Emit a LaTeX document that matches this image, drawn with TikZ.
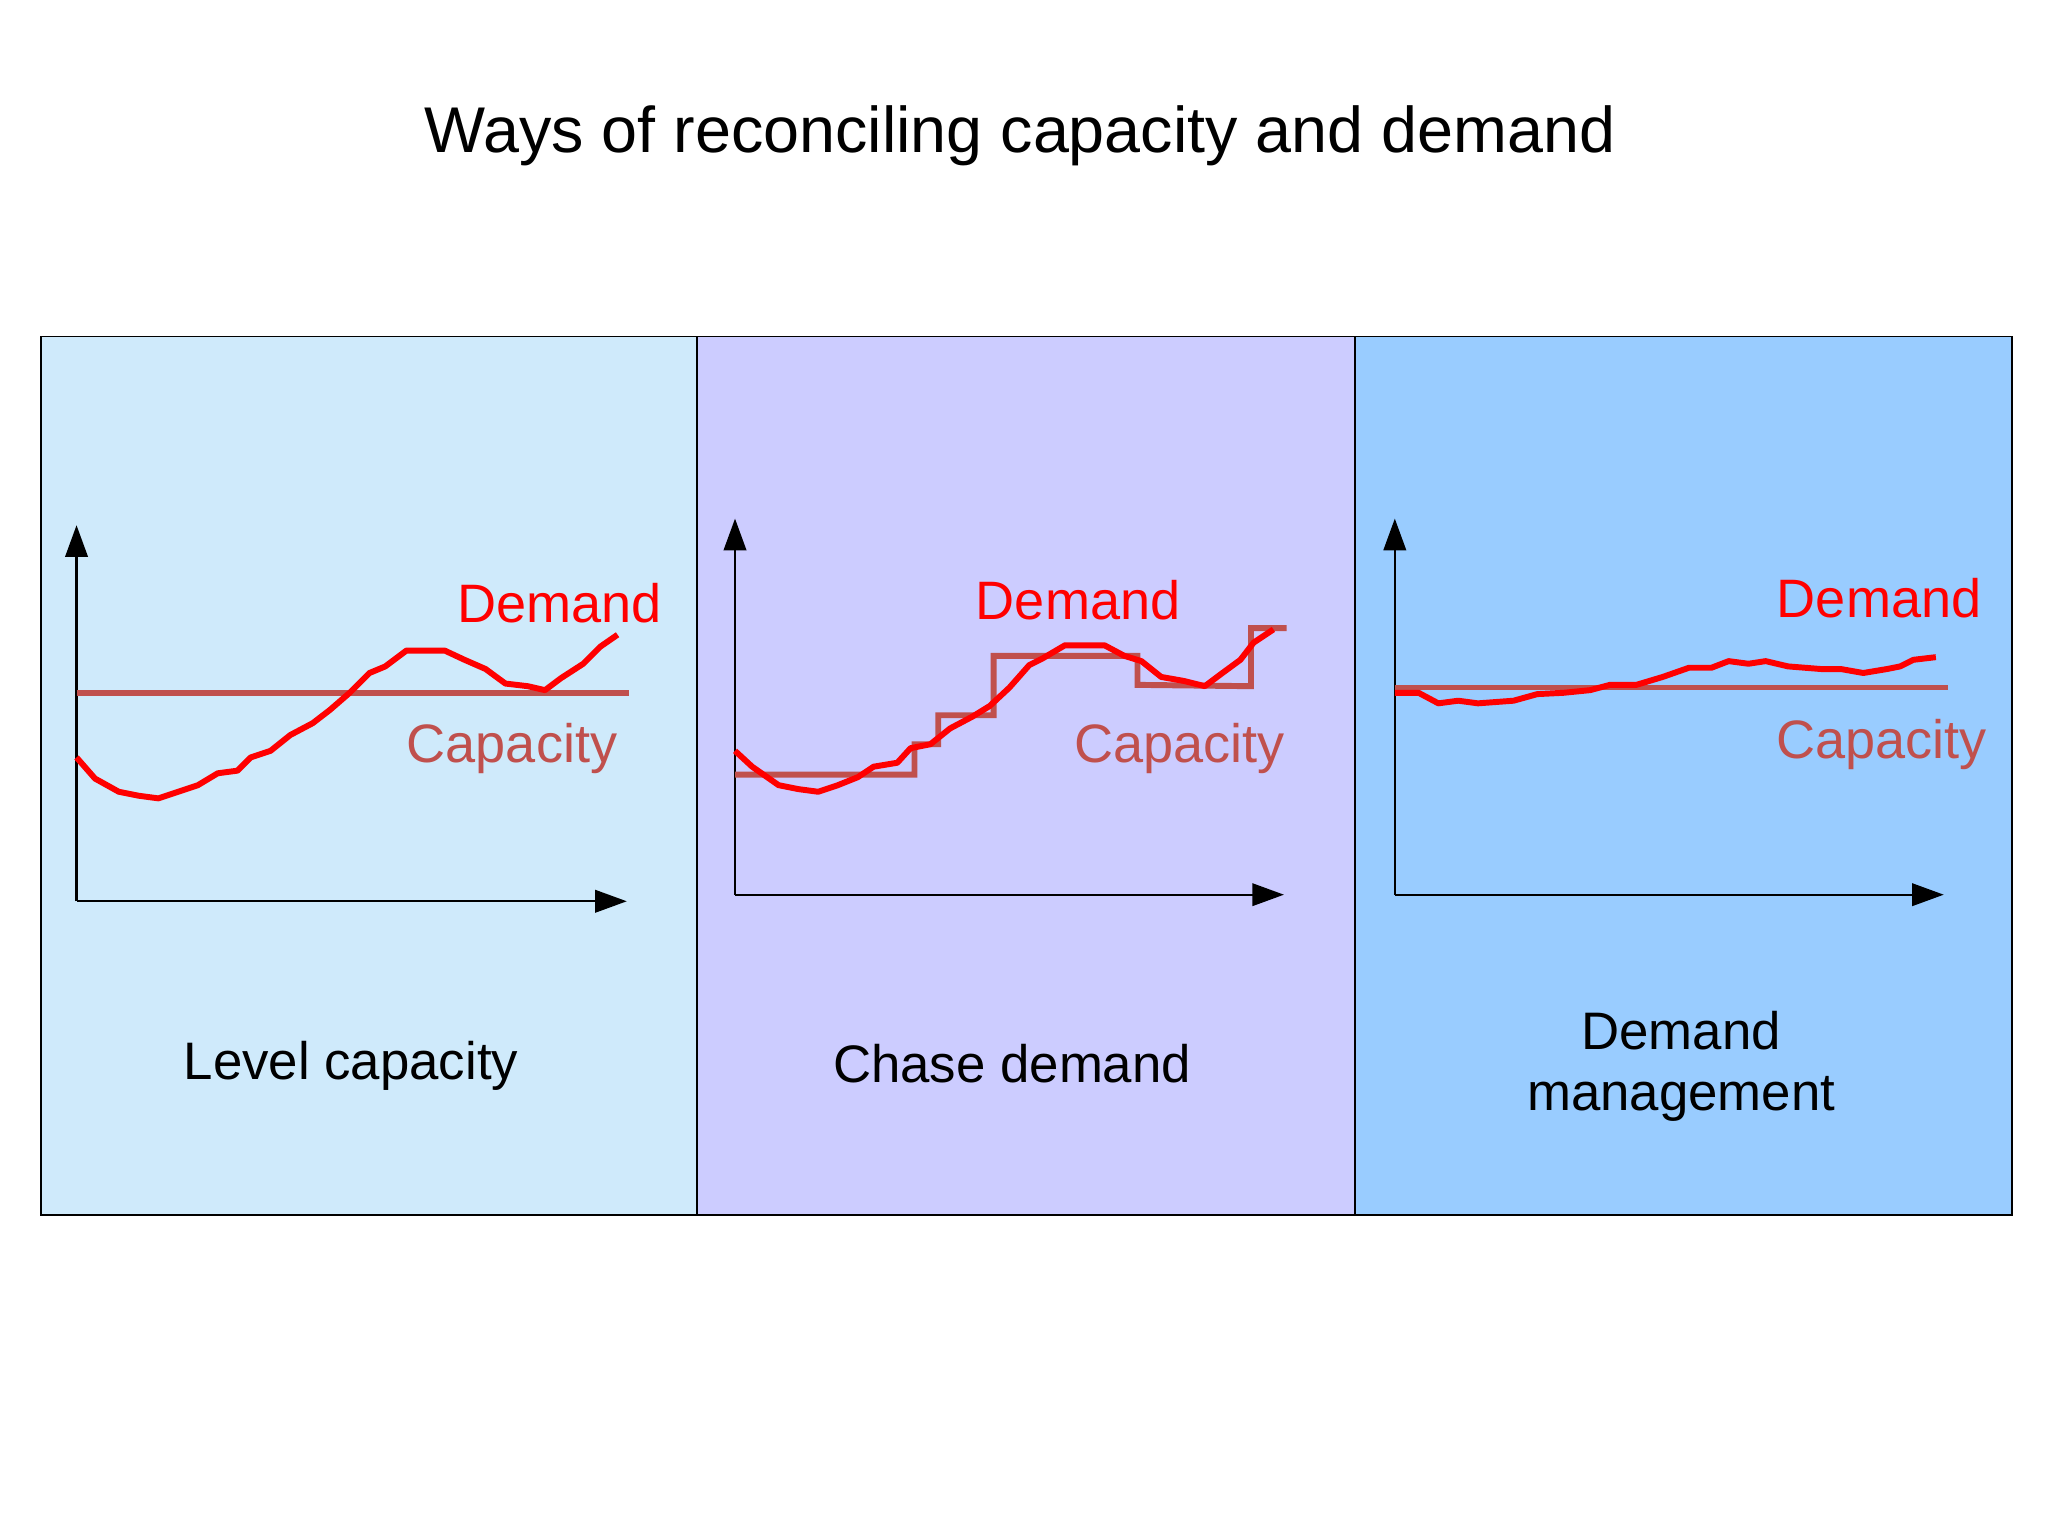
\documentclass[tikz,border=0pt]{standalone}
\usepackage{fontspec}
\setmainfont{Liberation Sans}
\usetikzlibrary{arrows.meta}
\definecolor{pA}{HTML}{CFEAFB}
\definecolor{pB}{HTML}{CCCCFF}
\definecolor{pC}{HTML}{99CCFF}
\definecolor{capcol}{HTML}{C0504D}
\tikzset{
 panel/.style={draw=black,line width=1.5pt},
 axis/.style={line width=1.8pt,-{Triangle[length=24pt,width=17pt]}},
 dem/.style={red,line width=4.5pt,line join=round},
 capl/.style={draw=capcol,line width=4.5pt},
 dlab/.style={text=red,font=\fontsize{41}{49}\selectfont},
 clab/.style={text=capcol,font=\fontsize{41}{49}\selectfont},
 blab/.style={font=\fontsize{40}{50}\selectfont,align=center}
}
\begin{document}
\begin{tikzpicture}[x=1pt,y=-1pt]
\useasboundingbox (0,0) rectangle (1552,1164);
\node (title) at (773,103) {\fontsize{49}{58}\selectfont Ways of reconciling capacity and demand};
\path[panel,fill=pA] (31,255) rectangle (528,921);
\path[panel,fill=pB] (528,255) rectangle (1027,921);
\path[panel,fill=pC] (1027,255) rectangle (1525,921);
% panel 1
\coordinate (o1) at (58,683); \coordinate (y1) at (58,398); \coordinate (x1) at (475,683);
\draw[axis] (o1) -- (y1); \draw[axis] (o1) -- (x1);
\draw[capl] (58,525) -- (477,525);
\draw[dem] plot coordinates {(58,574)(72,590)(90,600)(105,603)(120,605)(135,600)(150,595)(165,586)(180,584)(190,574)(205,569)(220,557)(237,548)(250,538)(265,525)(280,510)(292,505)(308,493)(322,493)(337,493)(352,500)(368,507)(383,518)(400,520)(413,523)(425,514)(442,503)(455,490)(468,481)};
\node[dlab] (d1) at (424,457) {Demand};
\node[clab] (c1) at (388,567) {Capacity};
\node[blab] (b1) at (266,808) {Level capacity};
% panel 2
\coordinate (o2) at (557,678); \coordinate (y2) at (557,393); \coordinate (x2) at (973,678);
\draw[axis] (o2) -- (y2); \draw[axis] (o2) -- (x2);
\draw[capl] (557,587) -- (693,587) -- (693,564) -- (711,564) -- (711,542) -- (753,542) -- (753,497) -- (862,497) -- (862,519) -- (948,520) -- (948,476) -- (975,476);
\draw[dem] plot coordinates {(557,569)(570,581)(590,595)(605,598)(620,600)(635,595)(650,589)(662,581)(680,578)(690,567)(705,564)(720,552)(737,543)(750,535)(765,521)(780,504)(790,499)(807,489)(822,489)(837,489)(852,497)(865,501)(880,513)(897,516)(913,520)(925,511)(940,500)(950,487)(965,477)};
\node[dlab] (d2) at (817,455) {Demand};
\node[clab] (c2) at (894,567) {Capacity};
\node[blab] (b2) at (767,806) {Chase demand};
% panel 3
\coordinate (o3) at (1057,678); \coordinate (y3) at (1057,393); \coordinate (x3) at (1473,678);
\draw[axis] (o3) -- (y3); \draw[axis] (o3) -- (x3);
\draw[capl] (1057,521) -- (1476,521);
\draw[dem] plot coordinates {(1057,525)(1075,525)(1090,533)(1105,531)(1120,533)(1147,531)(1165,526)(1185,525)(1205,523)(1220,519)(1240,519)(1260,513)(1280,506)(1297,506)(1310,501)(1325,503)(1338,501)(1355,505)(1380,507)(1395,507)(1412,510)(1430,507)(1440,505)(1450,500)(1467,498)};
\node[dlab] (d3) at (1424,453) {Demand};
\node[clab] (c3) at (1426,564) {Capacity};
\node[blab] (b3) at (1274,808) {Demand\\[-4pt]management};
\end{tikzpicture}
\end{document}
